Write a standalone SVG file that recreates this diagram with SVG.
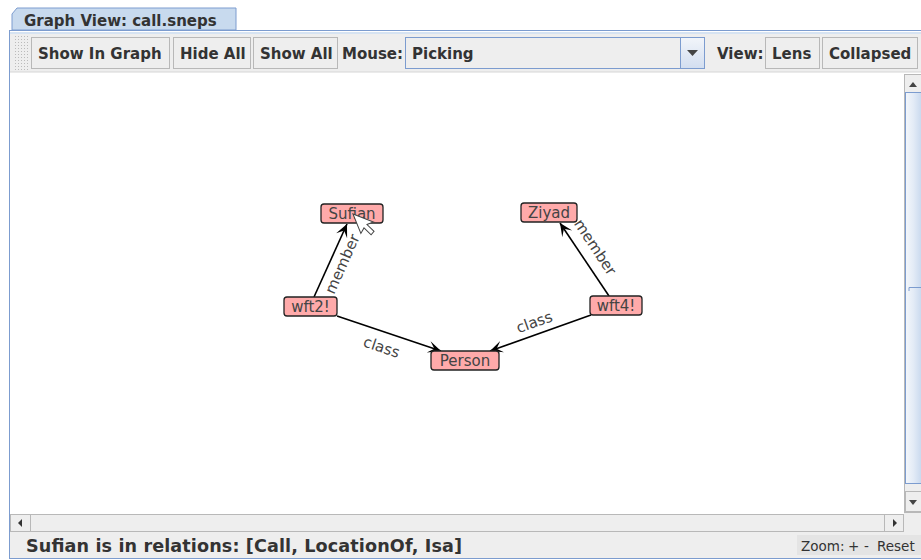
<svg xmlns="http://www.w3.org/2000/svg" width="921" height="560" viewBox="0 0 921 560">
<defs>
<style>
.ui{font-family:"DejaVu Sans","Liberation Sans",sans-serif;font-weight:bold;font-size:15px;fill:#333}
.btn{fill:#eeeeee;stroke:#b8b8b8;stroke-width:1}
.node rect{fill:#ffaaaa;stroke:#222;stroke-width:1.3}
.node text{font-family:"DejaVu Sans","Liberation Sans",sans-serif;font-size:15px;fill:#444;text-anchor:middle}
.edge{stroke:#000;stroke-width:1.6;fill:none;marker-end:url(#arr)}
.lbl{font-family:"DejaVu Sans","Liberation Sans",sans-serif;font-size:15px;fill:#444;text-anchor:middle}
</style>
<marker id="arr" viewBox="-13 -7 14 14" refX="0" refY="0" markerWidth="14" markerHeight="14" markerUnits="userSpaceOnUse" orient="auto">
<path d="M0,0 L-13,-6 L-7,0 L-13,6 Z" fill="#000"/>
</marker>
<linearGradient id="vsb" x1="0" y1="0" x2="1" y2="0">
<stop offset="0" stop-color="#f4f7fb"/><stop offset="0.5" stop-color="#e3ebf6"/><stop offset="1" stop-color="#c9d9ee"/>
</linearGradient>
<linearGradient id="dd" x1="0" y1="0" x2="0" y2="1">
<stop offset="0" stop-color="#f2f5fa"/><stop offset="1" stop-color="#d2def0"/>
</linearGradient>
<pattern id="grip" width="3" height="3" patternUnits="userSpaceOnUse">
<rect width="3" height="3" fill="#eeeeee"/><rect width="1" height="1" fill="#bbbbbb"/>
</pattern>
</defs>

<rect width="921" height="560" fill="#ffffff"/>

<!-- tab -->
<g id="tab">
<path d="M12,30 L12,14 L17,8 L236,8 L236,30 Z" fill="#c8daee" stroke="#7c9ccf" stroke-width="1"/>
<text class="ui" x="24" y="26">Graph View: call.sneps</text>
</g>

<!-- panel frame -->
<g id="frame">
<rect x="9.5" y="30.5" width="915" height="528" fill="#ffffff" stroke="#7c9ccf" stroke-width="1"/>
<line x1="10" y1="33" x2="921" y2="33" stroke="#c8daee" stroke-width="1.5"/>
<rect x="10" y="34" width="911" height="38" fill="#eeeeee"/>
<line x1="10" y1="72" x2="921" y2="72" stroke="#d6d6d6" stroke-width="1"/>
</g>

<!-- toolbar -->
<g id="toolbar">
<rect x="13" y="36" width="15" height="34" fill="url(#grip)"/>
<rect class="btn" x="31.5" y="37.5" width="138" height="31"/>
<text class="ui" x="38" y="59">Show In Graph</text>
<rect class="btn" x="173.5" y="37.5" width="77" height="31"/>
<text class="ui" x="180" y="59">Hide All</text>
<rect class="btn" x="253.5" y="37.5" width="84" height="31"/>
<text class="ui" x="260" y="59">Show All</text>
<text class="ui" x="342" y="59">Mouse:</text>
<rect x="405.5" y="37.5" width="299" height="31" fill="#eeeeee" stroke="#7c9ccf" stroke-width="1"/>
<text class="ui" x="412" y="59">Picking</text>
<rect x="680.5" y="37.5" width="24" height="31" fill="url(#dd)" stroke="#7c9ccf" stroke-width="1"/>
<path d="M687,50 L698,50 L692.5,56 Z" fill="#444"/>
<text class="ui" x="717" y="59">View:</text>
<rect class="btn" x="765.5" y="37.5" width="54" height="31"/>
<text class="ui" x="772" y="59">Lens</text>
<rect class="btn" x="822.5" y="37.5" width="95" height="31"/>
<text class="ui" x="829" y="59">Collapsed</text>
</g>

<!-- scrollbars -->
<g id="scrollbars">
<rect x="904.5" y="74.5" width="17" height="438" fill="#eeeeee" stroke="#b8b8b8" stroke-width="1"/>
<path d="M909,87 L917,87 L913,82 Z" fill="#444"/>
<rect x="905.5" y="92.5" width="16" height="391" fill="url(#vsb)" stroke="#7c9ccf" stroke-width="1"/>
<path d="M909,291 L909,287.5 L921,287.5" fill="none" stroke="#7c9ccf" stroke-width="1"/>
<rect x="905.5" y="491.5" width="16" height="20" fill="#eeeeee" stroke="#b8b8b8" stroke-width="1"/>
<path d="M909,500 L917,500 L913,505 Z" fill="#444"/>
<rect x="10.5" y="514.5" width="893" height="17" fill="#eeeeee" stroke="#b8b8b8" stroke-width="1"/>
<rect x="10.5" y="514.5" width="20" height="17" fill="#eeeeee" stroke="#b8b8b8" stroke-width="1"/>
<path d="M18,523 L22,519 L22,527 Z" fill="#333"/>
<rect x="884.5" y="514.5" width="19" height="17" fill="#eeeeee" stroke="#b8b8b8" stroke-width="1"/>
<path d="M897,523 L893,519 L893,527 Z" fill="#333"/>
<rect x="904" y="513" width="17" height="19" fill="#eeeeee"/>
</g>

<!-- status bar -->
<g id="status">
<rect x="10" y="532" width="911" height="26" fill="#eeeeee"/>
<text class="ui" x="26" y="552" style="font-size:17.6px" textLength="436">Sufian is in relations: [Call, LocationOf, Isa]</text>
<rect x="797" y="535" width="124" height="20" fill="#e4e4e4"/>
<text y="551" font-family="DejaVu Sans, Liberation Sans, sans-serif" font-size="13.5" fill="#333"><tspan x="801">Zoom:</tspan><tspan x="848">+</tspan><tspan x="864">-</tspan><tspan x="877">Reset</tspan></text>
<line x1="10" y1="558.5" x2="921" y2="558.5" stroke="#7c9ccf" stroke-width="1"/>
</g>

<!-- connectors -->
<g id="connectors">
<line class="edge" x1="314" y1="297" x2="347" y2="224"/>
<line class="edge" x1="337" y1="316" x2="441" y2="351"/>
<line class="edge" x1="609" y1="296" x2="560" y2="223"/>
<line class="edge" x1="591" y1="315" x2="490" y2="351"/>
<text class="lbl" transform="translate(347,266) rotate(-66)">member</text>
<text class="lbl" transform="translate(380,352) rotate(18.6)">class</text>
<text class="lbl" transform="translate(591,250) rotate(56.5)">member</text>
<text class="lbl" transform="translate(536,327) rotate(-19.6)">class</text>
</g>

<!-- nodes -->
<g id="node-sufian" class="node"><rect x="321" y="204" width="62" height="19" rx="3"/><text x="352" y="219">Sufian</text></g>
<g id="node-ziyad" class="node"><rect x="521" y="203" width="56" height="19" rx="3"/><text x="549" y="218">Ziyad</text></g>
<g id="node-wft2" class="node"><rect x="284" y="297" width="53" height="19" rx="3"/><text x="310.5" y="312">wft2!</text></g>
<g id="node-wft4" class="node"><rect x="590" y="296" width="52" height="19" rx="3"/><text x="616" y="311">wft4!</text></g>
<g id="node-person" class="node"><rect x="431" y="351" width="68" height="19" rx="3"/><text x="465" y="366">Person</text></g>

<!-- mouse cursor -->
<g id="cursor">
<path d="M353,214 L353,235 L358,231 L362,240 L366,238 L362,229 L369,229 Z" transform="rotate(-22 353 214)" fill="#ffffff" stroke="#444" stroke-width="1"/>
</g>
</svg>
